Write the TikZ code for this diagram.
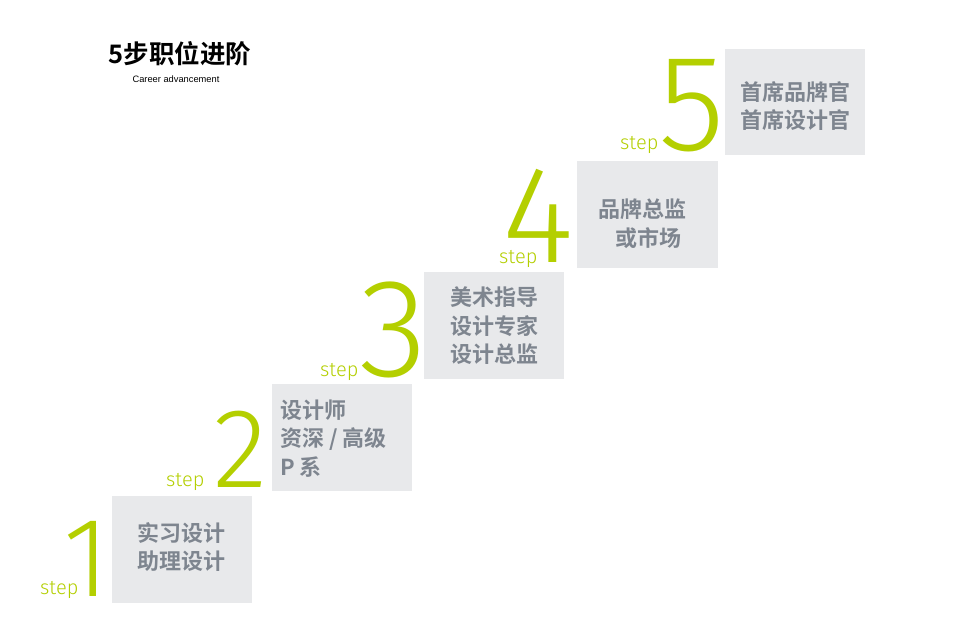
\documentclass[tikz,border=0pt]{standalone}
\usepackage{fontspec}
\setmainfont{Liberation Sans}
\newfontfamily\cjk{Noto Sans CJK SC}[BoldFont={Noto Sans CJK SC Bold}]
\newfontfamily\digitfont{Fira Sans Light}
\definecolor{lime}{HTML}{B4CF00}
\definecolor{boxgray}{HTML}{E8E9EB}
\definecolor{txtgray}{HTML}{7E858F}
\begin{document}
\begin{tikzpicture}[x=1pt,y=-1pt,
  stepbox/.style={fill=boxgray,draw=none},
  boxtext/.style={inner sep=0pt,anchor=west,align=left,text=txtgray,font=\cjk\bfseries\fontsize{22}{28.5}\selectfont},
  bigdigit/.style={inner sep=0pt,anchor=south east,text=lime,font=\digitfont\fontsize{#1}{#1}\selectfont},
  steplabel/.style={inner sep=0pt,anchor=base west,text=lime,font=\digitfont\fontsize{20}{20}\selectfont}]
\useasboundingbox (0,0) rectangle (976,619);
\fill[white] (0,0) rectangle (976,619);
% title
\node[inner sep=0pt,font=\cjk\bfseries\fontsize{25.5}{25.5}\selectfont] (title) at (180,54) {5步职位进阶};
\node[inner sep=0pt,font=\fontsize{9.3}{9.3}\selectfont] (subtitle) at (176,79) {Career advancement};
% boxes
\fill[stepbox] (112,496) rectangle (252,603) coordinate (b1);
\fill[stepbox] (272,384) rectangle (412,491) coordinate (b2);
\fill[stepbox] (424,272) rectangle (564,379) coordinate (b3);
\fill[stepbox] (577,161) rectangle (718,268) coordinate (b4);
\fill[stepbox] (725,49) rectangle (865,155) coordinate (b5);
% box texts
\node[boxtext] (t1) at (137,547) {实习设计\\助理设计};
\node[boxtext] (t2) at (280,438.5) {设计师\\资深 / 高级\\P 系};
\node[boxtext] (t3) at (450,326) {美术指导\\设计专家\\设计总监};
\node[boxtext] (t4) at (598,223.5) {品牌总监\\\hspace{17pt}或市场};
\node[boxtext] (t5) at (740,106) {首席品牌官\\首席设计官};
% digits
\node[bigdigit=113] (d1) at (110,597) {1};
\node[bigdigit=113] (d2) at (268,488) {2};
\node[bigdigit=140] (d3) at (428,378) {3};
\node[bigdigit=138] (d4) at (574,263) {4};
\node[bigdigit=137] (d5) at (725,152) {5};
% step labels
\node[steplabel] (s1) at (40,594) {step};
\node[steplabel] (s2) at (166,486) {step};
\node[steplabel] (s3) at (320,376) {step};
\node[steplabel] (s4) at (499,263) {step};
\node[steplabel] (s5) at (620,149) {step};
\end{tikzpicture}
\end{document}
